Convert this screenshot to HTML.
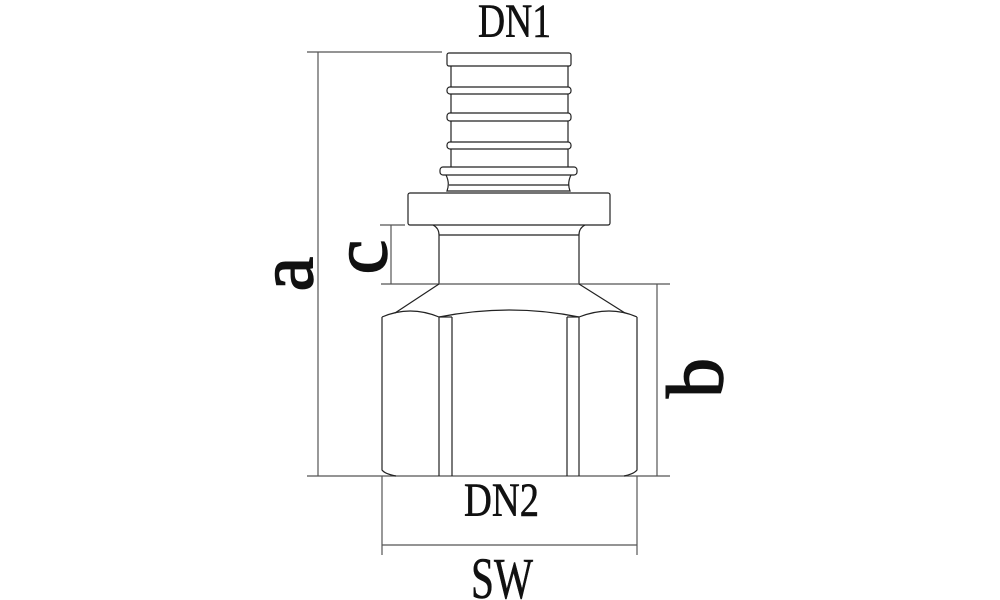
<!DOCTYPE html>
<html><head><style>html,body{margin:0;padding:0;background:#fff;}svg{display:block}</style></head>
<body>
<svg width="1000" height="600" viewBox="0 0 1000 600" xmlns="http://www.w3.org/2000/svg">
<g fill="none" stroke="#222" stroke-width="1.2">
<!-- dimension a -->
<line x1="307" y1="52" x2="442" y2="52" stroke="#555"/>
<line x1="318" y1="52" x2="318" y2="476" stroke="#555"/>
<line x1="307" y1="476" x2="670" y2="476" stroke="#555"/>
<!-- barb -->
<rect x="447" y="53" width="124" height="13" rx="2"/>
<line x1="451" y1="66" x2="451" y2="167"/><line x1="568" y1="66" x2="568" y2="167"/>
<rect x="447" y="87" width="124" height="7" rx="3" fill="#fff"/>
<rect x="447" y="113" width="124" height="8" rx="3" fill="#fff"/>
<rect x="447" y="142" width="124" height="7" rx="3" fill="#fff"/>
<rect x="440" y="167" width="137" height="8" rx="3" fill="#fff"/>
<path d="M446 175 Q450 183 447 191 L570 191 Q567 183 571 175"/>
<line x1="449" y1="185" x2="569" y2="185"/>
<!-- flange -->
<rect x="408" y="193" width="202" height="32" rx="2" fill="#fff"/>
<!-- neck -->
<path d="M433 225 Q439 228 439 235 L439 284 M585 225 Q579 228 579 235 L579 284"/>
<line x1="439" y1="235" x2="579" y2="235"/>
<!-- c dim -->
<line x1="380" y1="225" x2="405" y2="225" stroke="#555"/>
<line x1="391" y1="225" x2="391" y2="284" stroke="#555"/>
<line x1="381" y1="284" x2="670" y2="284" stroke="#555"/>
<!-- hex -->
<path d="M439 284 L395 313 M579 284 L625 313"/>
<path d="M382 317 L382 470 Q385 474 396 476 M637 317 L637 470 Q634 474 624 476"/>
<path d="M382 317 Q410 305 439 317 Q510 303 579 317 Q610 305 637 317"/>
<line x1="439" y1="317" x2="439" y2="476"/><line x1="452" y1="317" x2="452" y2="476"/>
<line x1="567" y1="317" x2="567" y2="476"/><line x1="579" y1="317" x2="579" y2="476"/>
<line x1="439" y1="317" x2="452" y2="317"/><line x1="567" y1="317" x2="579" y2="317"/>
<!-- b dim -->
<line x1="657" y1="284" x2="657" y2="476" stroke="#555"/>
<!-- SW dim -->
<line x1="382" y1="476" x2="382" y2="555" stroke="#555"/>
<line x1="637" y1="476" x2="637" y2="555" stroke="#555"/>
<line x1="382" y1="545" x2="637" y2="545" stroke="#555"/>
</g>
<g font-family="Liberation Serif, serif" fill="#111" stroke="#111" stroke-width="0.6">
<text x="478" y="37" font-size="48" textLength="73" lengthAdjust="spacingAndGlyphs">DN1</text>
<text x="464" y="516" font-size="48" textLength="75" lengthAdjust="spacingAndGlyphs">DN2</text>
<text x="471" y="598" font-size="58" textLength="62" lengthAdjust="spacingAndGlyphs">SW</text>
<text transform="translate(312,274) rotate(-90)" font-size="78" text-anchor="middle" stroke-width="1.5">a</text>
<text transform="translate(386,257) rotate(-90)" font-size="78" text-anchor="middle" stroke-width="1.5">c</text>
<text transform="translate(722,378) rotate(-90)" font-size="80" text-anchor="middle" stroke-width="1.5">b</text>
</g>
</svg>
</body></html>
